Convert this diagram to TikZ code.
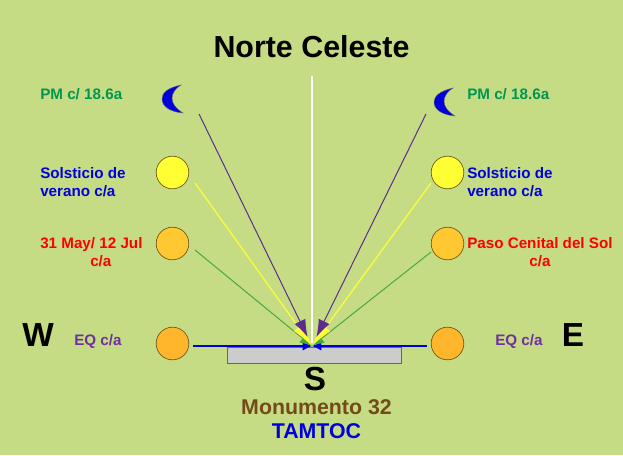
\documentclass[tikz,border=0pt]{standalone}
\usepackage{fontspec}
\setmainfont{Liberation Sans}
\usetikzlibrary{shapes.geometric, arrows.meta}
\definecolor{bgreen}{RGB}{198,220,132}
\definecolor{sungold}{RGB}{255,182,44}
\definecolor{sunamber}{RGB}{255,200,50}
\definecolor{sunyellow}{RGB}{255,255,51}
\definecolor{sunedge}{RGB}{110,85,20}
\definecolor{labgreen}{RGB}{0,150,80}
\definecolor{labblue}{RGB}{0,0,220}
\definecolor{labpurple}{RGB}{112,48,160}
\definecolor{labbrown}{RGB}{115,75,25}
\definecolor{rayviolet}{RGB}{90,45,140}
\definecolor{raygreen}{RGB}{70,170,60}
\tikzstyle{sun} = [circle, minimum width=24.5pt, inner sep=0pt, draw=sunedge, line width=0.5pt, fill=sungold]
\tikzstyle{midsun} = [sun, fill=sunamber]
\tikzstyle{solstice} = [sun, fill=sunyellow]
\tikzstyle{lab} = [font=\bfseries\fontsize{11.4pt}{13.5pt}\selectfont, inner sep=0pt]
\tikzstyle{cardinal} = [font=\bfseries\fontsize{25pt}{25pt}\selectfont, inner sep=0pt, text=black]
\tikzstyle{bigtext} = [font=\bfseries\fontsize{16pt}{16pt}\selectfont, inner sep=0pt]
\tikzstyle{rayblue} = [line width=1pt, labblue, -{Latex[length=7pt, width=7pt]}]
\tikzstyle{raygrn} = [line width=0.75pt, raygreen, -{Latex[length=9pt, width=8pt]}]
\tikzstyle{rayyel} = [line width=0.9pt, sunyellow, -{Latex[length=17pt, width=9pt]}]
\tikzstyle{raypur} = [line width=0.75pt, rayviolet, -{Latex[length=13pt, width=9pt]}, shorten >=7.5pt]
\tikzstyle{moon} = [draw=black!60, line width=0.3pt, fill=labblue]
\begin{document}
\begin{tikzpicture}[x=0.75pt, y=-0.75pt, node distance=53.25pt]
		\fill [bgreen] (0,0) rectangle (623,455);
		\useasboundingbox (0,0) rectangle (623,455);
		\node (title) [font=\bfseries\fontsize{22.8pt}{22.8pt}\selectfont, inner sep=0pt] at (311.5,47) {Norte Celeste};
		\node (sunw1) [solstice] at (172.5,172.5) {};
		\node (sunw2) [midsun, below of=sunw1] {};
		\node (sunw3) [sun, below of=sunw2, yshift=-21.75pt] {};
		\node (sune1) [solstice, right of=sunw1, xshift=153pt] {};
		\node (sune2) [midsun, below of=sune1] {};
		\node (sune3) [sun, below of=sune2, yshift=-21.75pt] {};
		\node (base) [rectangle, minimum width=130.5pt, minimum height=12pt, inner sep=0pt, draw=black!60, line width=0.4pt, fill=black!20] at (314,355) {};
		\coordinate (apex) at (312,346);
		\coordinate (north) at (312,76);
		\coordinate (whiteend) at (312,343);
		\coordinate (moonw) at (199,114);
		\coordinate (moone) at (426,114);
		\coordinate (bluew) at (193,346);
		\coordinate (bluee) at (427,346);
		\coordinate (greenw) at (195,250);
		\coordinate (greene) at (431,252);
		\coordinate (yelw) at (195,183);
		\coordinate (yele) at (431,183);

		\draw [moon] (181,85) .. controls (167,88) and (162,93) .. (162,99) .. controls (162,107) and (171,112) .. (183,113) .. controls (175,108) and (172,103) .. (172,98) .. controls (172,93) and (176,88) .. (181,85) -- cycle;
		\draw [moon] (453,88) .. controls (440,91) and (434,96) .. (434,102) .. controls (434,110) and (443,115) .. (455,116) .. controls (447,111) and (444,106) .. (444,101) .. controls (444,96) and (448,91) .. (453,88) -- cycle;

		\draw [rayblue] (bluew) -- (apex);
		\draw [rayblue] (bluee) -- (apex);
		\draw [raygrn] (greenw) -- (apex);
		\draw [raygrn] (greene) -- (apex);
		\draw [rayyel] (yelw) -- (apex);
		\draw [rayyel] (yele) -- (apex);
		\draw [raypur] (moonw) -- (apex);
		\draw [raypur] (moone) -- (apex);
		\draw [white, line width=0.9pt] (north) -- (whiteend);

		\node (pmw) [lab, text=labgreen, anchor=west] at (40,94) {PM c/ 18.6a};
		\node (pme) [lab, text=labgreen, anchor=west] at (467,94) {PM c/ 18.6a};
		\node (solw) [lab, text=labblue, anchor=west, align=left] at (40,182) {Solsticio de\\verano c/a};
		\node (sole) [lab, text=labblue, anchor=west, align=left] at (467,182) {Solsticio de\\verano c/a};
		\node (mayw) [lab, text=red, anchor=west, align=left] at (40,252) {31 May/ 12 Jul\\\hspace*{37.5pt}c/a};
		\node (pasoe) [lab, text=red, anchor=west, align=center] at (467,252) {Paso Cenital del Sol\\c/a};
		\node (eqw) [lab, text=labpurple, anchor=west] at (74,341) {EQ c/a};
		\node (eqe) [lab, text=labpurple, anchor=west] at (495,341) {EQ c/a};
		\node (west) [cardinal] at (38,335) {W};
		\node (east) [cardinal] at (573,335) {E};
		\node (south) [cardinal] at (315,379) {S};
		\node (monu) [bigtext, text=labbrown] at (316.5,407) {Monumento 32};
		\node (tamtoc) [bigtext, text=labblue] at (316.5,431) {TAMTOC};
		\end{tikzpicture}
\end{document}
